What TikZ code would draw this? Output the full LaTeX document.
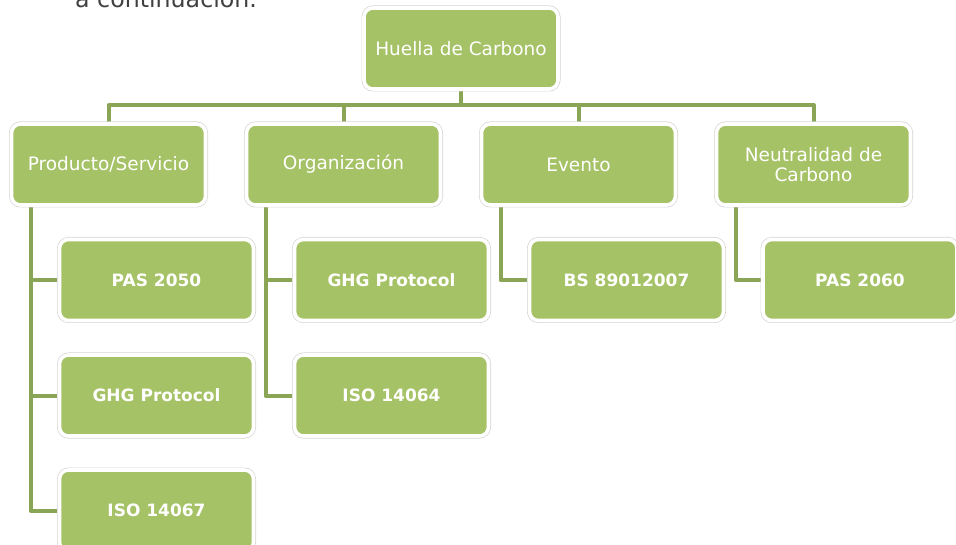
\documentclass[tikz,border=0pt]{standalone}
\usepackage{fontspec}
\setmainfont{DejaVu Sans}
\usetikzlibrary{backgrounds}
\definecolor{leafgreen}{RGB}{166,194,102}
\definecolor{stemgreen}{RGB}{139,165,86}
\definecolor{slidegray}{RGB}{64,64,64}

\begin{document}
\begin{tikzpicture}[x=1pt, y=-1pt,
  box/.style={fill=leafgreen, draw=white, line width=3.6pt, rounded corners=9pt,
    preaction={draw=black!17, line width=5pt, rounded corners=9pt},
    minimum width=194pt, minimum height=81pt, inner sep=0pt, align=center, text=white},
  topbox/.style={box, font=\fontsize{18.5}{20}\selectfont},
  leafbox/.style={box, font=\fontsize{17}{20}\selectfont\bfseries},
  stem/.style={draw=stemgreen, line width=4pt, line join=round}]
\useasboundingbox (0,0) rectangle (956,545);

\node[anchor=base west, inner sep=0pt, text=slidegray, font=\fontsize{23.7}{28}\selectfont] (intro) at (75,8) {a continuación.};

\node[topbox] (huella) at (461,48.5) {Huella de Carbono};

\node[topbox] (producto) at (108.5,164.5) {Producto/Servicio};
\node[topbox] (organizacion) at (343.5,164.5) {Organización};
\node[topbox] (evento) at (578.5,164.5) {Evento};
\node[topbox] (neutralidad) at (813.5,164.5) {Neutralidad de\\Carbono};

\node[leafbox] (pas2050) at (156.5,280) {PAS 2050};
\node[leafbox] (ghgprod) at (156.5,395.5) {GHG Protocol};
\node[leafbox] (iso14067) at (156.5,510.5) {ISO 14067};

\node[leafbox] (ghgorg) at (391.5,280) {GHG Protocol};
\node[leafbox] (iso14064) at (391.5,395.5) {ISO 14064};

\node[leafbox] (bs8901) at (626.5,280) {BS 89012007};

\node[leafbox] (pas2060) at (860,280) {PAS 2060};

\coordinate (bus) at (461,105);

\begin{scope}[on background layer]
\foreach \n in {producto,organizacion,evento,neutralidad}
  \draw[stem] (huella.south) |- (bus -| \n) -- (\n.north);

\draw[stem] ([xshift=-78pt]producto.south) |- (pas2050.west);
\draw[stem] ([xshift=-78pt]producto.south) |- (ghgprod.west);
\draw[stem] ([xshift=-78pt]producto.south) |- (iso14067.west);
\draw[stem] ([xshift=-78pt]organizacion.south) |- (ghgorg.west);
\draw[stem] ([xshift=-78pt]organizacion.south) |- (iso14064.west);
\draw[stem] ([xshift=-78pt]evento.south) |- (bs8901.west);
\draw[stem] ([xshift=-78pt]neutralidad.south) |- (pas2060.west);
\end{scope}
\end{tikzpicture}
\end{document}
